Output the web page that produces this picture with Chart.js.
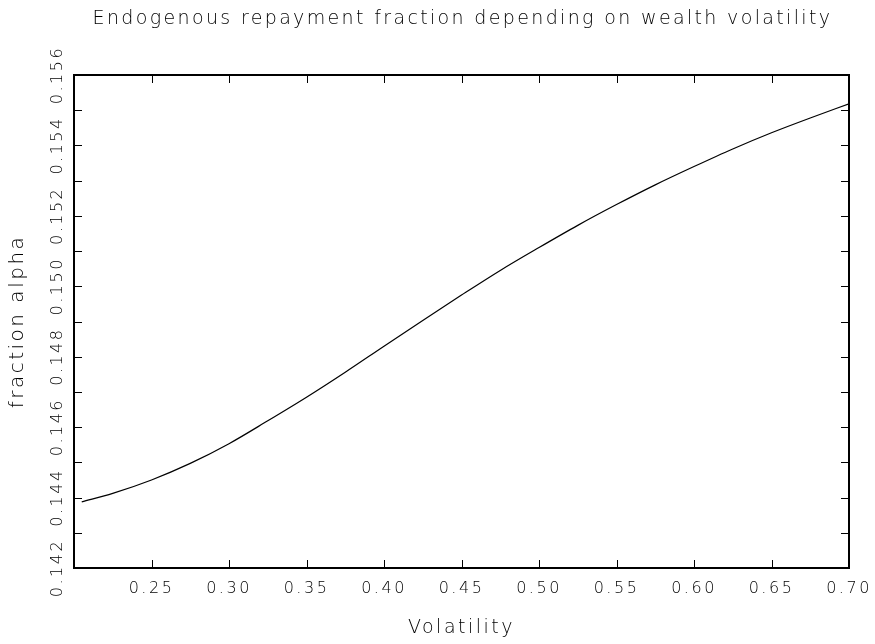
<!DOCTYPE html>
<html>
<head>
<meta charset="utf-8">
<script src="https://cdn.jsdelivr.net/npm/chart.js@4/dist/chart.umd.min.js"></script>
<style>
  html, body { margin: 0; padding: 0; background: #fff; }
</style>
</head>
<body>
<canvas id="alphaChart" width="875" height="644"></canvas>
<script>
// values
const volatility = [0.205, 0.225, 0.25, 0.275, 0.30, 0.325, 0.35, 0.375, 0.40, 0.425, 0.45,
                    0.475, 0.50, 0.525, 0.55, 0.575, 0.60, 0.625, 0.65, 0.675, 0.70];
const alpha = [0.14388, 0.14412, 0.14450, 0.14497, 0.14553, 0.14618, 0.14685, 0.14756, 0.14830, 0.14903, 0.14975,
               0.15045, 0.15110, 0.15173, 0.15232, 0.15288, 0.15340, 0.15390, 0.15436, 0.15478, 0.15518];

const xTickValues = [0.20, 0.25, 0.30, 0.35, 0.40, 0.45, 0.50, 0.55, 0.60, 0.65, 0.70];
const yTickValues = [0.142, 0.144, 0.146, 0.148, 0.150, 0.152, 0.154, 0.156];
const yMinorValues = [0.143, 0.145, 0.147, 0.149, 0.151, 0.153, 0.155];

const titleText = 'Endogenous repayment fraction depending on wealth volatility';
const fontFamily = "'DejaVu Sans', sans-serif";

Chart.defaults.font.family = fontFamily;
Chart.defaults.font.weight = 200;
Chart.defaults.color = '#000';

function spacing(chart) {
    chart.ctx.letterSpacing = '2.5px';
}

// frame, inward ticks on all four sides and the title
const framePlugin = {
    id: 'frame',
    beforeUpdate: spacing,
    beforeDraw: spacing,
    afterDatasetsDraw(chart) {
        const ctx = chart.ctx;
        const area = chart.chartArea;
        const xs = chart.scales.x;
        const ys = chart.scales.y;
        const len = 8;

        ctx.save();
        ctx.strokeStyle = '#000';
        ctx.lineWidth = 1;
        ctx.beginPath();
        xTickValues.forEach(v => {
            const px = Math.round(xs.getPixelForValue(v)) + 0.5;
            ctx.moveTo(px, area.bottom);
            ctx.lineTo(px, area.bottom - len);
            ctx.moveTo(px, area.top);
            ctx.lineTo(px, area.top + len);
        });
        yTickValues.concat(yMinorValues).forEach(v => {
            const py = Math.round(ys.getPixelForValue(v)) + 0.5;
            ctx.moveTo(area.left, py);
            ctx.lineTo(area.left + len, py);
            ctx.moveTo(area.right, py);
            ctx.lineTo(area.right - len, py);
        });
        ctx.stroke();

        ctx.lineWidth = 2;
        ctx.strokeRect(area.left, area.top, area.right - area.left, area.bottom - area.top);

        ctx.fillStyle = '#000';
        ctx.font = '200 19px ' + fontFamily;
        ctx.letterSpacing = '2.35px';
        ctx.textAlign = 'center';
        ctx.textBaseline = 'middle';
        ctx.fillText(titleText, (area.left + area.right) / 2 + 1, 19);
        ctx.restore();
    }
};

const ctx = document.getElementById('alphaChart').getContext('2d');
const alphaChart = new Chart(ctx, {
    type: 'scatter',
    data: {
        datasets: [{
            data: volatility.map((v, i) => ({ x: v, y: alpha[i] })),
            showLine: true,
            borderColor: '#000',
            borderWidth: 1.2,
            pointRadius: 0,
            cubicInterpolationMode: 'monotone'
        }]
    },
    options: {
        responsive: false,
        animation: false,
        layout: { padding: { top: 75, right: 26, left: 0, bottom: 0 } },
        plugins: {
            legend: { display: false },
            tooltip: { enabled: false }
        },
        scales: {
            x: {
                type: 'linear',
                min: 0.2,
                max: 0.7,
                afterBuildTicks: scale => {
                    scale.ticks = xTickValues.map(v => ({ value: v }));
                },
                afterFit: scale => {
                    scale.height = 76;
                    scale.paddingLeft = 0;
                    scale.paddingRight = 0;
                },
                grid: { display: false, drawTicks: false },
                border: { display: false },
                ticks: {
                    padding: 11,
                    font: { size: 16 },
                    maxRotation: 0,
                    autoSkip: false,
                    callback: value => value < 0.21 ? '' : value.toFixed(2)
                },
                title: {
                    display: true,
                    text: 'Volatility',
                    font: { size: 19 },
                    padding: { top: 0, bottom: 5 }
                }
            },
            y: {
                type: 'linear',
                min: 0.142,
                max: 0.156,
                afterBuildTicks: scale => {
                    scale.ticks = yTickValues.map(v => ({ value: v }));
                },
                afterFit: scale => {
                    scale.width = 74;
                    scale.paddingTop = 0;
                    scale.paddingBottom = 0;
                },
                grid: { display: false, drawTicks: false },
                border: { display: false },
                ticks: {
                    minRotation: 90,
                    maxRotation: 90,
                    crossAlign: 'center',
                    padding: -13,
                    font: { size: 16 },
                    autoSkip: false,
                    callback: value => value.toFixed(3)
                },
                title: {
                    display: true,
                    text: 'fraction alpha',
                    font: { size: 20 },
                    padding: { top: 6, bottom: 0 }
                }
            }
        }
    },
    plugins: [framePlugin]
});
</script>
</body>
</html>
